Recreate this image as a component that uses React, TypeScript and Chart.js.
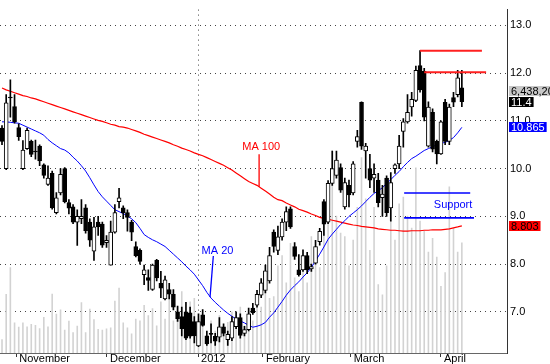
import React, { useEffect, useRef } from 'react';
import { Chart, registerables } from 'chart.js';

Chart.register(...registerables);

// ---- data (trading-day index 0..110) ----
const opens = [
  10.85, 10.0, 11.5, 11.3, 10.86, 10.0, 10.42, 10.57, 10.37, 10.47,
  10.08, 9.67, 9.9, 9.08, 9.49, 10.0, 9.29, 9.2, 8.88, 8.95,
  9.18, 8.88, 8.27, 8.88, 8.84, 8.45, 7.98, 8.67, 9.31, 9.18,
  9.08, 8.88, 8.37, 8.29, 7.78, 7.72, 7.47, 8.08, 7.6, 7.27,
  7.47, 7.37, 7.0, 6.9, 7.0, 6.98, 6.8, 6.29, 6.94, 6.5,
  6.55, 6.49, 6.47, 6.69, 6.42, 6.45, 6.69, 6.88, 6.55, 6.63,
  7.08, 7.14, 7.35, 7.45, 7.65, 8.67, 8.29, 8.57, 8.88, 9.16,
  8.37, 7.88, 7.88, 8.18, 7.9, 8.02, 8.47, 9.31, 8.88, 9.69,
  9.86, 10.02, 9.2, 9.65, 9.49, 10.57, 11.39, 10.37, 10.0, 9.8,
  9.76, 9.39, 9.8, 9.18, 10.0, 10.1, 10.78, 10.98, 11.29, 11.43,
  12.16, 12.04, 10.47, 11.18, 10.57, 10.31, 11.39, 10.57, 11.49, 11.55,
  11.69,
];
const highs = [
  10.9, 11.55, 11.86, 11.55, 10.94, 10.59, 10.85, 10.6, 10.6, 10.5,
  10.1, 10.06, 9.95, 9.5, 10.0, 10.02, 9.35, 9.25, 9.14, 9.35,
  9.25, 8.95, 8.98, 9.0, 8.88, 8.6, 8.9, 9.25, 9.59, 9.22,
  9.14, 8.92, 8.47, 8.32, 7.98, 7.88, 8.0, 8.1, 7.85, 7.75,
  7.6, 7.47, 7.12, 7.1, 7.2, 7.1, 6.9, 6.96, 7.05, 6.6,
  6.75, 6.55, 6.88, 6.75, 6.6, 6.9, 7.0, 6.96, 6.7, 7.08,
  7.18, 7.45, 7.7, 7.98, 8.35, 8.72, 8.8, 8.95, 9.2, 9.2,
  8.45, 8.2, 8.3, 8.25, 8.0, 8.5, 8.75, 9.35, 9.75, 10.37,
  10.37, 10.1, 9.8, 9.76, 10.15, 10.8, 11.4, 10.53, 10.3, 10.1,
  9.9, 9.65, 9.85, 9.92, 10.1, 10.7, 11.05, 11.55, 11.6, 12.15,
  12.47, 12.1, 11.4, 11.25, 10.6, 11.0, 11.45, 11.35, 11.6, 12.06,
  12.06,
];
const lows = [
  10.5, 9.98, 11.08, 10.95, 10.59, 9.98, 10.4, 10.25, 10.2, 10.06,
  9.8, 9.65, 9.15, 9.05, 9.45, 9.28, 9.05, 8.85, 8.39, 8.85,
  8.65, 8.37, 8.08, 8.6, 8.35, 8.35, 7.98, 8.65, 9.18, 8.95,
  8.69, 8.49, 8.15, 8.0, 7.57, 7.45, 7.45, 7.65, 7.3, 7.25,
  7.27, 7.04, 6.8, 6.5, 6.42, 6.45, 6.35, 6.27, 6.7, 6.3,
  6.35, 6.3, 6.37, 6.5, 6.3, 6.4, 6.65, 6.45, 6.5, 6.6,
  6.95, 7.1, 7.3, 7.4, 7.6, 8.25, 8.2, 8.5, 8.7, 8.75,
  8.1, 7.75, 7.85, 7.8, 7.85, 8.0, 8.4, 8.6, 8.85, 9.65,
  9.8, 9.5, 9.15, 9.2, 9.45, 10.45, 10.4, 9.8, 9.6, 9.5,
  9.2, 9.0, 9.0, 8.9, 9.9, 10.0, 10.45, 10.95, 11.1, 11.4,
  11.6, 11.0, 10.45, 10.35, 10.1, 10.3, 10.5, 10.5, 11.3, 11.5,
  11.3,
];
const closes = [
  10.57, 11.38, 11.48, 10.98, 10.67, 10.39, 10.8, 10.3, 10.35, 10.16,
  9.86, 9.8, 9.18, 9.39, 9.88, 9.31, 9.17, 8.88, 9.0, 9.0,
  8.7, 8.5, 8.78, 8.78, 8.4, 8.5, 8.67, 9.08, 9.39, 9.08,
  8.98, 8.67, 8.18, 8.06, 7.88, 7.66, 7.98, 7.71, 7.5, 7.67,
  7.37, 7.1, 6.86, 6.65, 6.45, 6.49, 6.5, 6.8, 6.72, 6.33,
  6.53, 6.39, 6.69, 6.55, 6.53, 6.8, 6.88, 6.51, 6.63, 6.96,
  6.98, 7.37, 7.61, 7.86, 8.18, 8.37, 8.57, 8.88, 9.1, 8.78,
  8.16, 7.78, 8.18, 7.88, 7.95, 8.37, 8.69, 8.84, 9.69, 10.0,
  10.18, 9.55, 9.71, 9.45, 10.1, 10.67, 10.47, 10.47, 9.76, 9.88,
  9.29, 9.47, 9.08, 9.71, 10.08, 10.47, 10.98, 11.18, 11.45, 12.06,
  11.65, 11.08, 11.29, 10.41, 10.31, 10.98, 10.57, 11.29, 11.39, 11.9,
  11.4,
];
// volume in millions of shares
const volumes = [
  0.8, 3.43, 5.0, 1.78, 1.53, 1.78, 1.55, 1.69, 1.63, 1.44,
  2.1, 1.55, 3.45, 2.29, 2.54, 1.36, 1.88, 1.21, 1.59, 2.95,
  1.21, 2.57, 1.97, 1.4, 1.35, 1.42, 1.49, 3.05, 3.8, 1.78,
  1.49, 1.14, 1.99, 1.9, 2.8, 2.2, 2.6, 1.6, 3.0, 2.0,
  3.3, 1.9, 2.7, 3.6, 2.4, 3.0, 3.2, 2.0, 1.6, 1.0,
  1.9, 1.3, 2.2, 1.1, 1.8, 2.4, 2.0, 2.7, 1.6, 2.4,
  1.9, 3.0, 2.7, 3.6, 3.2, 3.3, 5.1, 5.7, 4.1, 6.4,
  4.4, 3.6, 5.3, 4.1, 6.8, 5.6, 5.0, 7.2, 8.0, 11.8,
  8.0, 7.0, 6.8, 5.1, 6.6, 8.5, 11.4, 9.0, 6.0, 8.5,
  4.0, 3.4, 5.1, 10.0, 6.6, 8.7, 9.1, 8.0, 7.3, 10.8,
  7.7, 7.1, 5.9, 6.7, 5.6, 3.9, 4.7, 9.7, 7.3, 5.9,
  6.4382,
];
const ma20 = [
  10.98, 10.98, 10.97, 10.96, 10.95, 10.91, 10.87, 10.83, 10.79, 10.75,
  10.7, 10.61, 10.54, 10.48, 10.42, 10.39, 10.33, 10.24, 10.16, 10.06,
  9.95, 9.81, 9.66, 9.52, 9.41, 9.32, 9.23, 9.14, 9.1, 9.06,
  9.01, 8.95, 8.87, 8.75, 8.62, 8.56, 8.51, 8.47, 8.42, 8.37,
  8.29, 8.21, 8.13, 8.05, 7.96, 7.88, 7.79, 7.67, 7.55, 7.41,
  7.29, 7.2, 7.12, 7.04, 6.97, 6.91, 6.85, 6.81, 6.77, 6.72,
  6.68, 6.7, 6.73, 6.78, 6.89, 6.98, 7.1, 7.22, 7.35, 7.46,
  7.55, 7.63, 7.73, 7.82, 7.93, 8.07, 8.21, 8.36, 8.52, 8.63,
  8.73, 8.83, 8.91, 9.0, 9.07, 9.14, 9.22, 9.31, 9.4, 9.48,
  9.54, 9.6, 9.69, 9.77, 9.86, 9.94, 10.04, 10.13, 10.21, 10.26,
  10.32, 10.38, 10.42, 10.46, 10.5, 10.53, 10.55, 10.59, 10.65, 10.75,
  10.865,
];
const ma100 = [
  11.69, 11.65, 11.62, 11.59, 11.56, 11.53, 11.51, 11.48, 11.46, 11.43,
  11.4, 11.37, 11.34, 11.31, 11.28, 11.25, 11.22, 11.19, 11.16, 11.13,
  11.1, 11.07, 11.04, 11.01, 10.99, 10.96, 10.93, 10.91, 10.88, 10.87,
  10.85, 10.82, 10.79, 10.76, 10.72, 10.69, 10.66, 10.63, 10.6, 10.57,
  10.54, 10.5, 10.47, 10.43, 10.4, 10.37, 10.33, 10.3, 10.27, 10.23,
  10.19, 10.15, 10.11, 10.07, 10.02, 9.97, 9.91, 9.85, 9.79, 9.73,
  9.69, 9.65, 9.59, 9.53, 9.47, 9.4, 9.35, 9.33, 9.28, 9.24,
  9.2, 9.15, 9.12, 9.09, 9.05, 9.02, 8.98, 8.96, 8.94, 8.92,
  8.9, 8.88, 8.86, 8.84, 8.82, 8.81, 8.79, 8.78, 8.77, 8.76,
  8.74, 8.73, 8.72, 8.71, 8.71, 8.7, 8.69, 8.69, 8.7, 8.7,
  8.7, 8.71, 8.71, 8.72, 8.72, 8.72, 8.73, 8.74, 8.76, 8.78,
  8.803,
];
const monthTicks = [3.4, 25.1, 46.9, 62.4, 83.4, 105];
const monthLabels = ['November', 'December', '2012', 'February', 'March', 'April'];
const priceTicks = [7, 8, 9, 10, 11, 12, 13];
const lastVolume = 6438200;
const supportLevels = [9.49, 8.97];
const resistanceLevels = [12.47, 12.02];

// ---- layout / style (data units: trading-day index, price) ----
const FONT = 'Arial, "Liberation Sans", sans-serif';
const layoutCfg = {
  xMin: -0.48,
  xMax: 120.8,
  yMin: 6.14,
  yMax: 13.33,
  supportSpan: [[96.2, 112.0], [96.2, 112.9]],
  resistanceSpan: [[100, 114.8], [101, 115.8]],
  pointerMA100: [[61.5, 10.3], [61.5, 9.62]],
  pointerMA20: [[50.55, 8.17], [49.76, 7.31]],
  notes: [
    { text: 'MA 100', x: 62.0, y: 10.46, color: '#ff0000' },
    { text: 'MA 20', x: 51.55, y: 8.27, color: '#0000ff' },
    { text: 'Support', x: 107.9, y: 9.23, color: '#0000ff' },
  ],
  volumeBoxPrice: 11.62,
};

const notesPlugin = {
  id: 'notesPlugin',
  afterDatasetsDraw(chart: any) {
    const { ctx, scales } = chart;
    const xs = scales.x;
    const ys = scales.y;
    ctx.save();
    ctx.font = `11px ${FONT}`;
    ctx.textAlign = 'center';
    ctx.textBaseline = 'middle';
    layoutCfg.notes.forEach((n) => {
      ctx.fillStyle = n.color;
      ctx.fillText(n.text, xs.getPixelForValue(n.x), ys.getPixelForValue(n.y));
    });
    ctx.restore();
  },
  afterDraw(chart: any) {
    const { ctx, scales, chartArea } = chart;
    const ys = scales.y;
    const last = closes.length - 1;
    const boxes = [
      { text: lastVolume.toLocaleString('en-US'), price: layoutCfg.volumeBoxPrice, bg: '#c8c8c8', fg: '#000000', full: true },
      { text: closes[last].toFixed(1), price: closes[last], bg: '#000000', fg: '#ffffff', full: false },
      { text: ma20[last].toFixed(3), price: ma20[last], bg: '#0000ff', fg: '#ffffff', full: false },
      { text: ma100[last].toFixed(3), price: ma100[last], bg: '#ff0000', fg: '#000000', full: false },
    ];
    ctx.save();
    ctx.font = `11px ${FONT}`;
    ctx.textBaseline = 'middle';
    ctx.textAlign = 'left';
    boxes.forEach((b) => {
      const yc = Math.round(ys.getPixelForValue(b.price));
      const x0 = chartArea.right + 2;
      const w = b.full ? chart.width - x0 : ctx.measureText(b.text).width + 4;
      ctx.fillStyle = b.bg;
      ctx.fillRect(x0, yc - 5, w, 10);
      ctx.fillStyle = b.fg;
      ctx.fillText(b.text, x0 + 2, yc + 0.5);
    });
    ctx.restore();
  },
};

export default function App() {
  const ref = useRef<HTMLCanvasElement>(null);

  useEffect(() => {
    const canvas = ref.current;
    if (!canvas) return;
    Chart.defaults.font.family = FONT;

    const candleIdx = closes.map((_, i) => i);
    const seg = (pts: number[][]) => pts.map((p) => ({ x: p[0], y: p[1] }));
    const hline = (span: number[], level: number) => span.map((x) => ({ x, y: level }));

    const lineBase = { type: 'line', pointRadius: 0, tension: 0, fill: false, yAxisID: 'y' };

    const chart = new Chart(canvas, {
      type: 'bar',
      data: {
        datasets: [
          {
            ...lineBase,
            label: 'Resistance 1',
            data: hline(layoutCfg.resistanceSpan[0], resistanceLevels[0]),
            borderColor: '#ff2020',
            borderWidth: 2,
            order: 0,
          },
          {
            ...lineBase,
            label: 'Resistance 2',
            data: hline(layoutCfg.resistanceSpan[1], resistanceLevels[1]),
            borderColor: '#ff2020',
            borderWidth: 2,
            order: 0,
          },
          {
            ...lineBase,
            label: 'Support 1',
            data: hline(layoutCfg.supportSpan[0], supportLevels[0]),
            borderColor: '#0000ff',
            borderWidth: 1.6,
            order: 0,
          },
          {
            ...lineBase,
            label: 'Support 2',
            data: hline(layoutCfg.supportSpan[1], supportLevels[1]),
            borderColor: '#0000ff',
            borderWidth: 1.6,
            order: 0,
          },
          {
            ...lineBase,
            label: 'MA100 pointer',
            data: seg(layoutCfg.pointerMA100),
            borderColor: '#ff0000',
            borderWidth: 1.3,
            order: 0,
          },
          {
            ...lineBase,
            label: 'MA20 pointer',
            data: seg(layoutCfg.pointerMA20),
            borderColor: '#0000ff',
            borderWidth: 1.3,
            order: 0,
          },
          {
            type: 'bar',
            label: 'Bodies',
            data: candleIdx.map((i) => ({ x: i, y: [opens[i], closes[i]] })),
            backgroundColor: candleIdx.map((i) => (closes[i] >= opens[i] ? '#ffffff' : '#000000')),
            borderColor: '#000000',
            borderWidth: 1,
            borderSkipped: false,
            barThickness: 4,
            maxBarThickness: 4,
            grouped: false,
            yAxisID: 'y',
            order: 2,
          },
          {
            type: 'bar',
            label: 'Wicks',
            data: candleIdx.map((i) => ({ x: i, y: [lows[i], highs[i]] })),
            backgroundColor: '#000000',
            borderWidth: 0,
            barThickness: 1,
            maxBarThickness: 1,
            grouped: false,
            yAxisID: 'y',
            order: 3,
          },
          {
            ...lineBase,
            label: 'MA 20',
            data: ma20.map((v, i) => ({ x: i, y: v })),
            borderColor: '#0000ff',
            borderWidth: 1,
            order: 5,
          },
          {
            ...lineBase,
            label: 'MA 100',
            data: ma100.map((v, i) => ({ x: i, y: v })),
            borderColor: '#ff0000',
            borderWidth: 1.2,
            order: 6,
          },
          {
            type: 'bar',
            label: 'Volume',
            data: volumes.map((v, i) => ({ x: i, y: v })),
            backgroundColor: '#d2d2d2',
            borderWidth: 0,
            barThickness: 1.6,
            maxBarThickness: 1.6,
            inflateAmount: 0,
            grouped: false,
            yAxisID: 'y2',
            order: 10,
          },
        ],
      } as any,
      options: {
        responsive: false,
        animation: false,
        devicePixelRatio: 1,
        layout: { padding: 0 },
        plugins: {
          legend: { display: false },
          tooltip: { enabled: false },
          title: { display: false },
        },
        scales: {
          x: {
            type: 'linear',
            position: 'bottom',
            min: layoutCfg.xMin,
            max: layoutCfg.xMax,
            bounds: 'data',
            offset: false,
            afterBuildTicks: (s: any) => {
              s.ticks = monthTicks.map((v) => ({ value: v }));
            },
            afterFit: (s: any) => {
              s.height = 11;
            },
            ticks: {
              callback: (_v: any, i: number) => ' ' + monthLabels[i],
              align: 'start',
              padding: -5,
              maxRotation: 0,
              autoSkip: false,
              color: '#000000',
              font: { size: 11, family: FONT },
            },
            grid: {
              offset: false,
              drawOnChartArea: true,
              drawTicks: true,
              tickLength: 4,
              tickColor: '#333333',
              lineWidth: 1,
              color: (c: any) => (monthLabels[c.index] === '2012' ? '#444444' : 'rgba(0,0,0,0)'),
            },
            border: { display: true, color: '#666666', width: 1, dash: [1, 4] },
          },
          y: {
            type: 'linear',
            position: 'right',
            min: layoutCfg.yMin,
            max: layoutCfg.yMax,
            bounds: 'data',
            afterBuildTicks: (s: any) => {
              s.ticks = priceTicks.map((v) => ({ value: v }));
            },
            afterFit: (s: any) => {
              s.width = 43;
            },
            ticks: {
              callback: (v: any) => Number(v).toFixed(1),
              padding: 3,
              color: '#000000',
              font: { size: 11, family: FONT },
            },
            grid: {
              drawTicks: false,
              color: '#444444',
              lineWidth: 1,
            },
            border: { display: true, color: '#333333', width: 1, dash: [1, 4] },
          },
          y2: {
            type: 'linear',
            display: false,
            min: 0,
            max: 20,
            grid: { display: false },
          },
        },
      } as any,
      plugins: [notesPlugin],
    });

    return () => chart.destroy();
  }, []);

  return (
    <div style={{ position: 'absolute', left: 0, top: 0, width: 550, height: 364, background: '#ffffff' }}>
      <canvas ref={ref} width={550} height={364} style={{ display: 'block' }} />
    </div>
  );
}
